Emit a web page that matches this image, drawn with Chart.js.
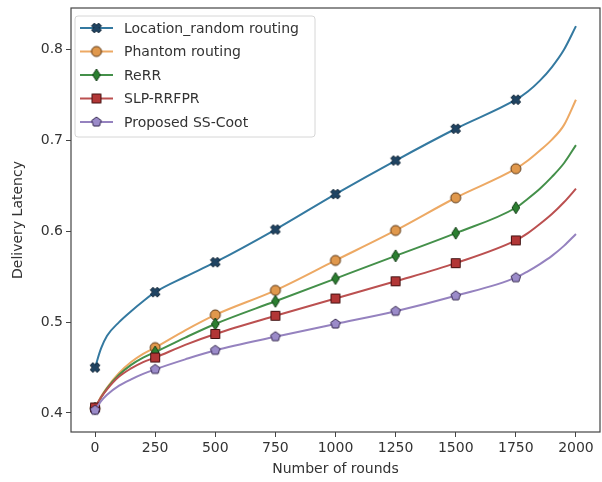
<!DOCTYPE html>
<html>
<head>
<meta charset="utf-8">
<script src="https://cdn.jsdelivr.net/npm/chart.js@4.4.1/dist/chart.umd.min.js"></script>
<style>
  html, body { margin: 0; padding: 0; background: #fff; }
  #wrap { width: 602px; height: 482px; }
</style>
</head>
<body>
<div id="wrap"><canvas id="latencyChart" width="602" height="482"></canvas></div>
<script>
// rounds sampled along the curves (markers only every 250)
const rounds = [0, 25, 50, 100, 150, 200, 250, 375, 500, 750, 1000, 1250, 1500, 1750, 1800, 1850, 1900, 1950, 2000];

const locationRandom = [0.450, 0.471, 0.485, 0.500, 0.512, 0.523, 0.533, 0.550, 0.566, 0.602, 0.641, 0.678, 0.713, 0.745, 0.754, 0.766, 0.781, 0.800, 0.826];
const phantomRouting = [0.405, 0.418, 0.428, 0.444, 0.456, 0.465, 0.472, 0.491, 0.508, 0.535, 0.568, 0.601, 0.637, 0.669, 0.678, 0.689, 0.701, 0.717, 0.745];
const rerr           = [0.405, 0.417, 0.427, 0.442, 0.453, 0.461, 0.467, 0.483, 0.498, 0.523, 0.548, 0.573, 0.598, 0.626, 0.636, 0.647, 0.660, 0.675, 0.695];
const slpRrfpr       = [0.406, 0.417, 0.426, 0.440, 0.449, 0.456, 0.461, 0.475, 0.487, 0.507, 0.526, 0.545, 0.565, 0.590, 0.598, 0.608, 0.619, 0.632, 0.647];
const ssCoot         = [0.403, 0.413, 0.420, 0.430, 0.437, 0.443, 0.448, 0.459, 0.469, 0.484, 0.498, 0.512, 0.529, 0.549, 0.556, 0.564, 0.573, 0.584, 0.597];

const seriesLabels = ['Location_random routing', 'Phantom routing', 'ReRR', 'SLP-RRFPR', 'Proposed SS-Coot'];

const xTicks = [0, 250, 500, 750, 1000, 1250, 1500, 1750, 2000];
const yTicks = [0.4, 0.5, 0.6, 0.7, 0.8];

const FONT = "'DejaVu Sans', sans-serif";

// matplotlib-like marker drawn on a small canvas
function makeMarker(shape, fill, edge) {
    const s = 14;
    const c = document.createElement('canvas');
    c.width = s; c.height = s;
    const g = c.getContext('2d');
    const cx = s / 2, cy = s / 2;
    g.beginPath();
    if (shape === 'circle') {
        g.arc(cx, cy, 5, 0, Math.PI * 2);
    } else if (shape === 'square') {
        g.rect(cx - 4.5, cy - 4.5, 9, 9);
    } else if (shape === 'thindiamond') {
        g.moveTo(cx, cy - 6); g.lineTo(cx + 3.8, cy); g.lineTo(cx, cy + 6); g.lineTo(cx - 3.8, cy);
        g.closePath();
    } else if (shape === 'pentagon') {
        for (let i = 0; i < 5; i++) {
            const a = -Math.PI / 2 + i * 2 * Math.PI / 5;
            const px = cx + 5 * Math.cos(a), py = cy + 5 * Math.sin(a);
            if (i === 0) g.moveTo(px, py); else g.lineTo(px, py);
        }
        g.closePath();
    } else if (shape === 'xfilled') {
        const a = 5, t = 1.9;
        const pts = [[-t, -a], [t, -a], [t, -t], [a, -t], [a, t], [t, t], [t, a], [-t, a], [-t, t], [-a, t], [-a, -t], [-t, -t]];
        const r = Math.PI / 4;
        pts.forEach((p, i) => {
            const px = cx + p[0] * Math.cos(r) - p[1] * Math.sin(r);
            const py = cy + p[0] * Math.sin(r) + p[1] * Math.cos(r);
            if (i === 0) g.moveTo(px, py); else g.lineTo(px, py);
        });
        g.closePath();
    }
    g.fillStyle = fill;
    g.fill();
    g.lineWidth = 1;
    g.strokeStyle = edge;
    g.stroke();
    return c;
}

const styles = [
    { line: '#3479a0', marker: makeMarker('xfilled', '#1f4463', '#0c1f30') },
    { line: '#eda964', marker: makeMarker('circle', '#e0984c', '#5a3614') },
    { line: '#44904a', marker: makeMarker('thindiamond', '#2b7f30', '#123d15') },
    { line: '#bb5050', marker: makeMarker('square', '#b23636', '#421010') },
    { line: '#9582bf', marker: makeMarker('pentagon', '#9b8bc9', '#35284f') }
];

const values = [locationRandom, phantomRouting, rerr, slpRrfpr, ssCoot];

function isMarked(x) {
    return x % 250 === 0 && x < 2000;
}

const datasets = values.map((vals, i) => ({
    label: seriesLabels[i],
    data: rounds.map((r, k) => ({ x: r, y: vals[k] })),
    borderColor: styles[i].line,
    borderWidth: 2,
    fill: false,
    cubicInterpolationMode: 'monotone',
    pointStyle: styles[i].marker,
    pointRadius: ctx => (ctx.raw && isMarked(ctx.raw.x)) ? 5 : 0,
    pointHoverRadius: 0,
    order: 5 - i
}));

// frame + legend box drawn like matplotlib
const framePlugin = {
    id: 'frame',
    afterDraw(chart) {
        const { ctx, chartArea: a } = chart;
        ctx.save();
        ctx.strokeStyle = '#444';
        ctx.lineWidth = 1.2;
        ctx.strokeRect(a.left, a.top, a.right - a.left, a.bottom - a.top);

        const bx = a.left + 4, by = a.top + 8, bw = 240, bh = 121;
        ctx.beginPath();
        ctx.roundRect(bx, by, bw, bh, 3);
        ctx.fillStyle = 'rgba(255,255,255,0.85)';
        ctx.fill();
        ctx.strokeStyle = '#d6d6d6';
        ctx.lineWidth = 1;
        ctx.stroke();

        ctx.font = '14px ' + FONT;
        ctx.textBaseline = 'middle';
        chart.data.datasets.forEach((ds, i) => {
            const y = by + 12 + i * 23.5;
            ctx.beginPath();
            ctx.moveTo(bx + 5, y);
            ctx.lineTo(bx + 38, y);
            ctx.strokeStyle = styles[i].line;
            ctx.lineWidth = 2;
            ctx.stroke();
            const m = styles[i].marker;
            ctx.drawImage(m, bx + 21.5 - m.width / 2, y - m.height / 2);
            ctx.fillStyle = '#333';
            ctx.fillText(ds.label, bx + 49, y + 1);
        });
        ctx.restore();
    }
};

new Chart(document.getElementById('latencyChart'), {
    type: 'line',
    data: { datasets: datasets },
    options: {
        responsive: false,
        animation: false,
        layout: { autoPadding: false, padding: { left: 6, top: 8, right: 2, bottom: 2 } },
        plugins: {
            legend: { display: false },
            tooltip: { enabled: false }
        },
        scales: {
            x: {
                type: 'linear',
                min: -100,
                max: 2100,
                afterBuildTicks: s => { s.ticks = xTicks.map(v => ({ value: v })); },
                afterFit: s => { s.height = 48; s.paddingLeft = 0; s.paddingRight = 0; },
                grid: { drawOnChartArea: false, tickLength: 5, color: '#444' },
                border: { display: false },
                ticks: {
                    color: '#333',
                    font: { family: FONT, size: 14 },
                    padding: 3,
                    maxRotation: 0,
                    callback: v => String(v)
                },
                title: {
                    display: true,
                    text: 'Number of rounds',
                    color: '#333',
                    font: { family: FONT, size: 14 },
                    padding: { top: 0, bottom: 2 }
                }
            },
            y: {
                type: 'linear',
                min: 0.379,
                max: 0.846,
                afterBuildTicks: s => { s.ticks = yTicks.map(v => ({ value: v })); },
                afterFit: s => { s.width = 65; s.paddingTop = 0; s.paddingBottom = 0; },
                grid: { drawOnChartArea: false, tickLength: 5, color: '#444' },
                border: { display: false },
                ticks: {
                    color: '#333',
                    font: { family: FONT, size: 14 },
                    padding: 3,
                    callback: v => v.toFixed(1)
                },
                title: {
                    display: true,
                    text: 'Delivery Latency',
                    color: '#333',
                    font: { family: FONT, size: 14 },
                    padding: { top: 4, bottom: 0 }
                }
            }
        }
    },
    plugins: [framePlugin]
});
</script>
</body>
</html>
